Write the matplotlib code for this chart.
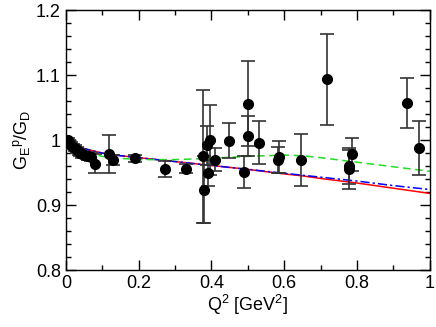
import numpy as np
import matplotlib
matplotlib.use('Agg')
import matplotlib.pyplot as plt
from matplotlib.ticker import MultipleLocator

plt.rcParams['font.family'] = ['Liberation Sans', 'DejaVu Sans']
plt.rcParams['mathtext.default'] = 'regular'

# data points: Q^2, G_E/G_D, error
q2 = [0.005, 0.010, 0.015, 0.020, 0.025, 0.030, 0.035, 0.040, 0.045, 0.050, 0.060, 0.070,
      0.080, 0.118, 0.130, 0.190, 0.272, 0.330,
      0.378, 0.379, 0.388, 0.390, 0.397, 0.410, 0.449,
      0.489, 0.499, 0.499, 0.531, 0.583, 0.586, 0.647,
      0.718, 0.778, 0.779, 0.787, 0.936, 0.970]
ratio = [1.000, 0.996, 0.993, 0.990, 0.988, 0.985, 0.982, 0.980, 0.978, 0.977, 0.976, 0.974,
         0.964, 0.979, 0.969, 0.972, 0.956, 0.956,
         0.975, 0.924, 0.992, 0.949, 1.000, 0.970, 0.999,
         0.951, 1.056, 1.006, 0.996, 0.970, 0.974, 0.970,
         1.094, 0.955, 0.960, 0.978, 1.057, 0.988]
err = [0.004, 0.004, 0.004, 0.004, 0.005, 0.005, 0.005, 0.005, 0.005, 0.005, 0.006, 0.006,
       0.014, 0.029, 0.008, 0.005, 0.012, 0.007,
       0.102, 0.052, 0.030, 0.020, 0.054, 0.018, 0.027,
       0.024, 0.065, 0.031, 0.033, 0.020, 0.025, 0.040,
       0.070, 0.030, 0.028, 0.025, 0.038, 0.042]

# model curves
q_curve = [0.0, 0.02, 0.05, 0.1, 0.15, 0.2, 0.3, 0.4, 0.5, 0.6, 0.65, 0.7, 0.8, 0.9, 1.0]
red = [1.000, 0.994, 0.987, 0.980, 0.976, 0.973, 0.967, 0.961, 0.955, 0.948, 0.945, 0.941, 0.934, 0.926, 0.918]
blue = [1.000, 0.994, 0.987, 0.980, 0.976, 0.973, 0.967, 0.961, 0.955, 0.949, 0.946, 0.943, 0.937, 0.930, 0.924]
green = [1.000, 0.991, 0.982, 0.975, 0.972, 0.970, 0.970, 0.972, 0.975, 0.977, 0.976, 0.973, 0.966, 0.959, 0.952]

fig = plt.figure(figsize=(4.36, 3.27), dpi=100)
ax = fig.add_axes([0.151, 0.174, 0.835, 0.795])

ax.plot(q_curve, red, color='red', lw=1.1)
ax.plot(q_curve, blue, color='blue', lw=1.1, ls=(0, (6, 2, 1.5, 2)))
ax.plot(q_curve, green, color='#22dd22', lw=1.1, ls=(0, (5, 3)))
ax.errorbar(q2, ratio, yerr=err, fmt='o', color='black', ms=7, ecolor='#333333',
            elinewidth=1.2, capsize=5, capthick=1.2, zorder=5)

ax.set_xlim(0, 1)
ax.set_ylim(0.8, 1.2)
ax.xaxis.set_minor_locator(MultipleLocator(0.1))
ax.yaxis.set_minor_locator(MultipleLocator(0.02))
ax.set_xticks([0, 0.2, 0.4, 0.6, 0.8, 1])
ax.set_xticklabels(['0', '0.2', '0.4', '0.6', '0.8', '1'])
ax.set_yticks([0.8, 0.9, 1.0, 1.1, 1.2])
ax.set_yticklabels(['0.8', '0.9', '1', '1.1', '1.2'])
ax.tick_params(which='both', direction='in', top=True, right=True, labelsize=13)
ax.tick_params(which='major', length=7, width=1)
ax.tick_params(which='minor', length=3.5, width=1)
for s in ax.spines.values():
    s.set_linewidth(1)

ax.set_xlabel(r'Q$^2$ [GeV$^2$]', fontsize=13, labelpad=1)
ax.set_ylabel(r'G$_E$$^p$/G$_D$', fontsize=13, labelpad=3)

fig.savefig('out.png', dpi=100)
